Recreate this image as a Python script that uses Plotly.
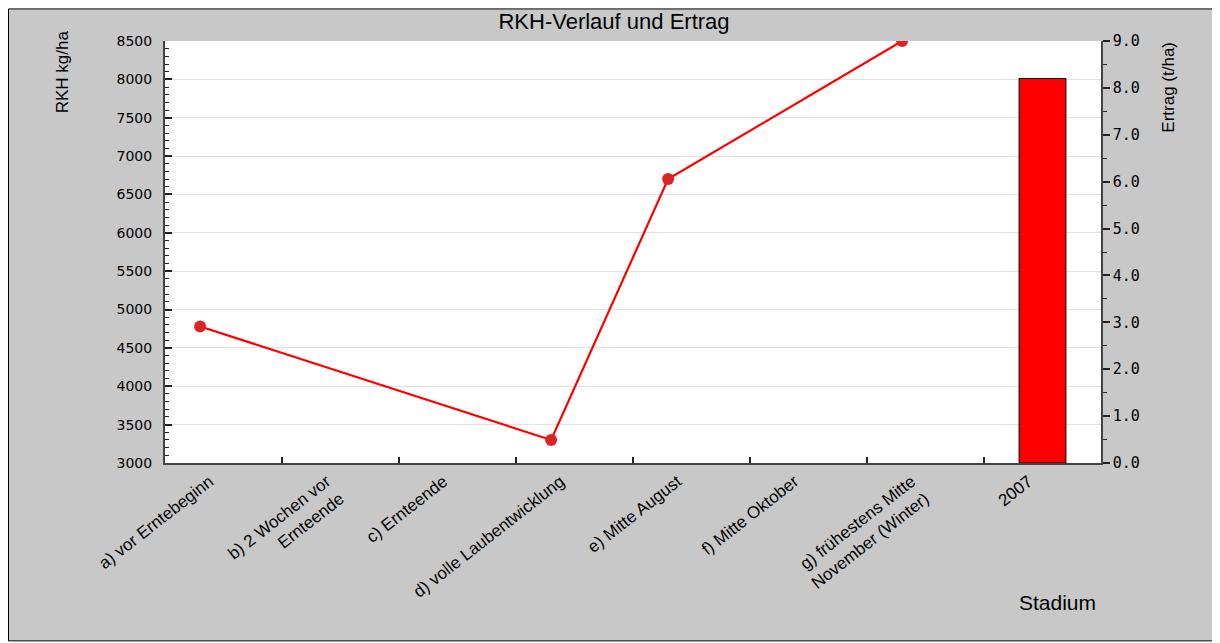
import numpy as np
import plotly.graph_objects as go

# ---- data ----
stages = ["a) vor Erntebeginn", "b) 2 Wochen vor<br>Ernteende", "c) Ernteende",
          "d) volle Laubentwicklung", "e) Mitte August", "f) Mitte Oktober",
          "g) frühestens Mitte<br>November (Winter)"]
years = ["2007"]
rkh = [4780, None, None, 3300, 6700, None, 8500]   # RKH kg/ha
ertrag = [8.2]                                      # Ertrag t/ha

categories = stages + years
idx = np.arange(len(categories))
line_x = idx[:len(stages)] - 0.2
bar_x = idx[len(stages):]
boundaries = idx[:-1] + 0.5
label_pos = idx - 0.12

fig = go.Figure()
fig.add_trace(go.Scatter(
    x=line_x, y=rkh, mode="lines+markers", connectgaps=True,
    line=dict(color="#FF0000", width=2.2),
    marker=dict(color="#DC2424", size=12, symbol="circle"),
    xaxis="x", yaxis="y", showlegend=False))
fig.add_trace(go.Bar(
    x=bar_x, y=ertrag, width=0.4,
    marker=dict(color="#FF0000", line=dict(color="#000000", width=1)),
    xaxis="x2", yaxis="y2", showlegend=False))

xr = [-0.5, len(categories) - 0.5]
axis_col = "#444444"
W, H = 1212, 635

fig.update_layout(
    template="none",
    width=W, height=H,
    margin=dict(l=157, r=119, t=33, b=180, autoexpand=False),
    paper_bgcolor="#FFFFFF",
    plot_bgcolor="rgba(0,0,0,0)",
    title=dict(text="RKH-Verlauf und Ertrag", x=0.5, xanchor="center",
               y=1 - 13 / H, yanchor="middle", pad=dict(t=0, b=0),
               font=dict(family="Liberation Sans", size=22, color="#000")),
    xaxis=dict(range=xr, tickvals=label_pos, ticktext=categories, tickangle=-38,
               ticks="", showline=True, linecolor=axis_col, linewidth=2,
               showgrid=False, zeroline=False, automargin=False,
               tickfont=dict(family="Liberation Sans", size=17, color="#000")),
    xaxis2=dict(range=xr, overlaying="x", anchor="y", side="bottom",
                tickvals=boundaries, ticks="inside", ticklen=6, tickwidth=1.5,
                tickcolor="#222", showticklabels=False, showline=False,
                showgrid=False, zeroline=False, automargin=False),
    yaxis=dict(range=[3000, 8500], tick0=3000, dtick=500, ticks="inside",
               ticklen=7, tickwidth=1.5, tickcolor="#222",
               showline=True, linecolor=axis_col, linewidth=2,
               showgrid=True, gridcolor="#E2E2E2", gridwidth=1,
               zeroline=False, automargin=False, ticklabelstandoff=8,
               minor=dict(dtick=100, ticks="inside", ticklen=4, tickcolor="#222",
                          tickwidth=1.2, showgrid=False),
               tickfont=dict(family="DejaVu Sans", size=14, color="#000")),
    yaxis2=dict(range=[0, 9], dtick=1, tickformat=".1f", overlaying="y",
                side="right", anchor="x", ticks="outside", ticklen=7,
                tickwidth=1.5, tickcolor="#222",
                showline=True, linecolor=axis_col, linewidth=1.5,
                showgrid=False, zeroline=False, automargin=False,
                minor=dict(dtick=0.5, ticks="outside", ticklen=4, tickcolor="#222",
                           tickwidth=1.2, showgrid=False),
                tickfont=dict(family="DejaVu Sans Mono", size=15, color="#000")),
    shapes=[
        dict(type="rect", xref="paper", yref="paper", layer="below",
             x0=-0.1672, x1=1.1229, y0=-0.4215, y1=1.0760,
             fillcolor="#C8C8C8", line=dict(color="#000", width=1)),
        dict(type="rect", xref="paper", yref="paper", layer="below",
             x0=0, x1=1, y0=0, y1=1, fillcolor="#FFFFFF", line=dict(width=0)),
    ],
    annotations=[
        dict(text="RKH kg/ha", xref="paper", yref="paper", x=-0.110, y=0.926,
             xanchor="center", yanchor="middle", textangle=-90, showarrow=False,
             font=dict(family="Liberation Sans", size=17, color="#000")),
        dict(text="Ertrag (t/ha)", xref="paper", yref="paper", x=1.0726, y=0.8916,
             xanchor="center", yanchor="middle", textangle=-90, showarrow=False,
             font=dict(family="Liberation Sans", size=17, color="#000")),
        dict(text="Stadium", xref="paper", yref="paper", x=0.954, y=-0.3315,
             xanchor="center", yanchor="middle", showarrow=False,
             font=dict(family="Liberation Sans", size=21, color="#000")),
    ],
)

fig.write_html("out.html")
